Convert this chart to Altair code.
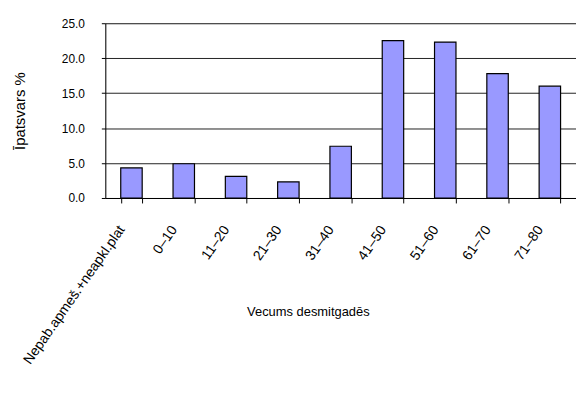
import altair as alt
import pandas as pd

categories = ["Nepab.apmeš.+neapkl.plat", "0–10", "11–20", "21–30", "31–40",
              "41–50", "51–60", "61–70", "71–80"]
values = [4.3, 4.9, 3.1, 2.3, 7.4, 22.5, 22.3, 17.8, 16.0]

df = pd.DataFrame({"cat": categories, "val": values})

FONT = "Liberation Sans"

chart = alt.Chart(df).mark_bar(
    color="#9999FF", stroke="#000000", strokeWidth=1.2
).encode(
    x=alt.X("cat:N", sort=categories,
            scale=alt.Scale(paddingInner=0.59, paddingOuter=0.295),
            axis=alt.Axis(title="Vecums desmitgadēs", labelAngle=-55,
                          labelAlign="right", labelBaseline="middle",
                          labelPadding=24, labelOffset=-10,
                          tickBand="extent", tickSize=5, tickColor="#000",
                          domainColor="#000", labelFont=FONT, labelFontSize=14,
                          labelColor="#000", labelLimit=400,
                          titleFont=FONT, titleFontSize=13, titleFontWeight="normal",
                          titleColor="#000", titleX=204, titleY=114,
                          titleBaseline="middle", titleAnchor="start", titleAlign="center")),
    y=alt.Y("val:Q", scale=alt.Scale(domain=[0, 25]),
            axis=alt.Axis(title="Īpatsvars %", values=[0, 5, 10, 15, 20, 25],
                          format=".1f", grid=True, gridColor="#222", gridWidth=1,
                          tickSize=4, tickColor="#000", domainColor="#000",
                          labelPadding=17, labelFont=FONT, labelFontSize=12,
                          labelColor="#000", titleFont=FONT, titleFontSize=15,
                          titleFontWeight="normal", titleColor="#000",
                          titleX=-86, titleBaseline="middle")),
).properties(
    width=474, height=176,
    autosize=alt.AutoSizeParams(type="none"),
    padding={"left": 98, "top": 14, "right": 0, "bottom": 190},
).configure_view(stroke=None).configure(background="white")

chart.save("out.html", embed_options={"renderer": "svg", "actions": False})
